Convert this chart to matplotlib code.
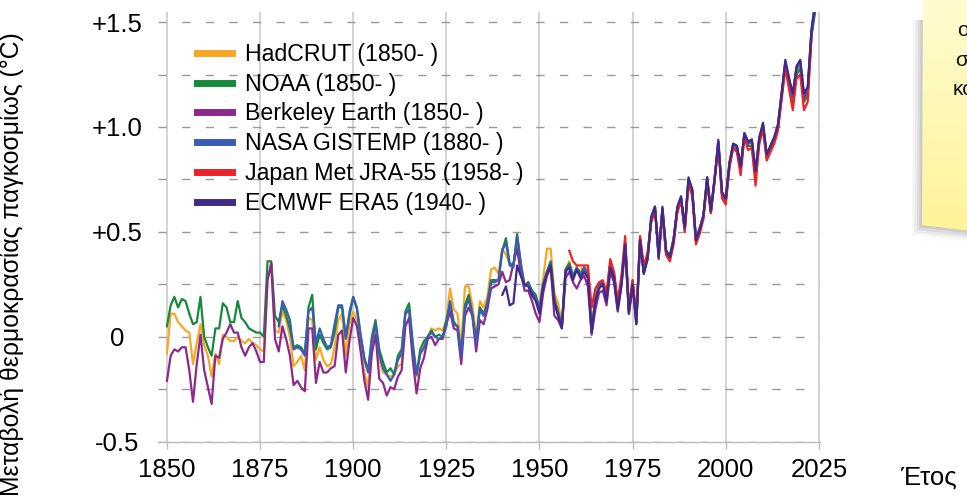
import matplotlib
matplotlib.use('Agg')
import matplotlib.pyplot as plt
import numpy as np
from matplotlib.patches import Polygon

plt.rcParams['font.family'] = ['Liberation Sans', 'DejaVu Sans']

# anomalias anuais (oC)
anos = list(range(1850, 2025))

hadcrut = [
    -0.08, 0.11, 0.11, 0.07, 0.05, 0.03, 0.02, -0.13, -0.03, 0.06,
    -0.04, -0.09, -0.19, -0.08, -0.13, 0.01, 0.00, -0.02, -0.02, 0.00,
    -0.02, -0.03, -0.01, -0.03, -0.04, -0.06, -0.07, 0.27, 0.35, 0.03,
    0.02, 0.12, 0.08, 0.00, -0.14, -0.12, -0.09, -0.16, 0.09, 0.08,
    -0.11, -0.05, -0.11, -0.14, -0.13, -0.05, 0.08, 0.11, -0.09, 0.06,
    0.12, 0.08, -0.06, -0.17, -0.24, -0.03, 0.03, -0.11, -0.17, -0.18,
    -0.19, -0.18, -0.14, -0.13, 0.11, 0.12, -0.09, -0.19, -0.08, -0.06,
    0.00, 0.04, 0.03, 0.04, 0.03, 0.08, 0.23, 0.13, 0.11, -0.05,
    0.24, 0.24, 0.15, 0.00, 0.17, 0.14, 0.19, 0.32, 0.33, 0.30,
    0.42, 0.39, 0.35, 0.34, 0.46, 0.35, 0.25, 0.25, 0.19, 0.18,
    0.15, 0.28, 0.42, 0.42, 0.21, 0.16, 0.06, 0.32, 0.36, 0.30,
    0.31, 0.32, 0.33, 0.32, 0.05, 0.19, 0.25, 0.26, 0.19, 0.35,
    0.30, 0.15, 0.27, 0.44, 0.13, 0.26, 0.08, 0.46, 0.31, 0.38,
    0.55, 0.61, 0.39, 0.60, 0.40, 0.38, 0.46, 0.60, 0.65, 0.51,
    0.73, 0.69, 0.46, 0.51, 0.57, 0.74, 0.59, 0.75, 0.92, 0.68,
    0.66, 0.82, 0.91, 0.90, 0.80, 0.96, 0.92, 0.93, 0.78, 0.94,
    1.00, 0.86, 0.90, 0.94, 0.99, 1.15, 1.30, 1.21, 1.13, 1.27,
    1.29, 1.13, 1.16, 1.44, 1.56]

noaa = [
    0.05, 0.15, 0.19, 0.14, 0.18, 0.17, 0.11, 0.06, 0.07, 0.19,
    0.00, -0.05, -0.09, 0.04, 0.04, 0.16, 0.14, 0.07, 0.07, 0.17,
    0.09, 0.07, 0.04, 0.03, 0.02, 0.02, 0.00, 0.36, 0.36, 0.10,
    0.07, 0.15, 0.10, 0.04, -0.05, -0.04, -0.05, -0.08, 0.14, 0.20,
    -0.06, 0.01, -0.03, -0.06, -0.05, 0.02, 0.14, 0.14, -0.01, 0.12,
    0.19, 0.14, 0.01, -0.10, -0.16, 0.00, 0.08, -0.06, -0.12, -0.17,
    -0.15, -0.18, -0.09, -0.06, 0.12, 0.16, -0.03, -0.18, -0.06, -0.02,
    0.00, 0.03, 0.00, 0.01, 0.00, 0.08, 0.16, 0.07, 0.05, -0.08,
    0.15, 0.20, 0.11, -0.02, 0.14, 0.11, 0.16, 0.27, 0.27, 0.27,
    0.41, 0.47, 0.35, 0.34, 0.49, 0.35, 0.24, 0.26, 0.22, 0.20,
    0.13, 0.25, 0.31, 0.36, 0.18, 0.12, 0.05, 0.32, 0.35, 0.29,
    0.33, 0.30, 0.33, 0.30, 0.03, 0.18, 0.25, 0.26, 0.19, 0.35,
    0.30, 0.15, 0.27, 0.45, 0.13, 0.27, 0.08, 0.47, 0.32, 0.38,
    0.57, 0.62, 0.39, 0.61, 0.41, 0.39, 0.47, 0.61, 0.66, 0.52,
    0.75, 0.70, 0.47, 0.52, 0.58, 0.75, 0.60, 0.74, 0.92, 0.68,
    0.65, 0.81, 0.90, 0.89, 0.80, 0.95, 0.91, 0.91, 0.78, 0.93,
    1.00, 0.85, 0.89, 0.93, 0.99, 1.15, 1.29, 1.20, 1.12, 1.25,
    1.28, 1.12, 1.15, 1.43, 1.55]

berkeley = [
    -0.21, -0.09, -0.06, -0.07, -0.05, -0.05, -0.16, -0.31, -0.13, 0.01,
    -0.16, -0.24, -0.32, -0.09, -0.10, -0.01, 0.02, 0.06, 0.02, 0.02,
    -0.05, -0.09, -0.05, -0.03, -0.07, -0.12, -0.12, 0.27, 0.35, -0.01,
    -0.07, 0.05, -0.01, -0.09, -0.23, -0.21, -0.24, -0.26, 0.04, 0.04,
    -0.22, -0.12, -0.17, -0.17, -0.15, -0.14, 0.01, 0.03, -0.17, -0.02,
    0.09, 0.05, -0.07, -0.21, -0.30, -0.08, 0.01, -0.20, -0.22, -0.28,
    -0.24, -0.25, -0.19, -0.16, 0.05, 0.09, -0.11, -0.27, -0.15, -0.10,
    -0.01, 0.00, -0.04, -0.01, -0.01, 0.06, 0.12, 0.04, 0.03, -0.13,
    0.10, 0.14, 0.10, -0.07, 0.08, 0.06, 0.13, 0.23, 0.24, 0.25,
    0.31, 0.26, 0.27, 0.35, 0.42, 0.30, 0.22, 0.22, 0.17, 0.11,
    0.07, 0.21, 0.29, 0.33, 0.10, 0.08, 0.04, 0.28, 0.31, 0.26,
    0.23, 0.27, 0.29, 0.24, 0.01, 0.13, 0.21, 0.22, 0.15, 0.31,
    0.26, 0.12, 0.24, 0.42, 0.11, 0.24, 0.06, 0.45, 0.30, 0.37,
    0.55, 0.61, 0.37, 0.60, 0.39, 0.37, 0.46, 0.61, 0.66, 0.51,
    0.75, 0.70, 0.46, 0.51, 0.57, 0.76, 0.60, 0.75, 0.94, 0.68,
    0.66, 0.83, 0.92, 0.91, 0.81, 0.97, 0.93, 0.94, 0.78, 0.95,
    1.01, 0.86, 0.91, 0.95, 1.01, 1.16, 1.31, 1.23, 1.15, 1.28,
    1.31, 1.14, 1.17, 1.46, 1.58]

anos_nasa = list(range(1880, 2025))
nasa = [
    0.05, 0.17, 0.13, 0.08, -0.06, -0.05, -0.06, -0.09, 0.12, 0.14,
    -0.03, 0.04, -0.01, -0.05, -0.04, 0.06, 0.15, 0.15, 0.00, 0.10,
    0.19, 0.13, 0.00, -0.11, -0.17, -0.02, 0.06, -0.08, -0.15, -0.18,
    -0.21, -0.18, -0.11, -0.08, 0.11, 0.13, -0.05, -0.18, -0.08, -0.05,
    0.00, 0.02, 0.00, -0.01, 0.00, 0.05, 0.17, 0.06, 0.05, -0.09,
    0.13, 0.18, 0.10, -0.03, 0.13, 0.10, 0.16, 0.26, 0.26, 0.27,
    0.41, 0.45, 0.34, 0.33, 0.48, 0.34, 0.24, 0.26, 0.21, 0.19,
    0.13, 0.25, 0.31, 0.35, 0.18, 0.11, 0.05, 0.32, 0.34, 0.28,
    0.33, 0.29, 0.33, 0.30, 0.02, 0.18, 0.24, 0.26, 0.18, 0.34,
    0.29, 0.14, 0.26, 0.45, 0.12, 0.26, 0.07, 0.47, 0.31, 0.37,
    0.57, 0.62, 0.38, 0.61, 0.40, 0.38, 0.46, 0.61, 0.66, 0.51,
    0.75, 0.70, 0.46, 0.51, 0.57, 0.75, 0.59, 0.74, 0.93, 0.68,
    0.64, 0.82, 0.92, 0.90, 0.80, 0.97, 0.92, 0.93, 0.77, 0.94,
    1.01, 0.86, 0.90, 0.94, 1.00, 1.15, 1.31, 1.22, 1.15, 1.28,
    1.31, 1.15, 1.18, 1.44, 1.57]

anos_jra = list(range(1958, 2024))
jra55 = [
    0.41, 0.36,
    0.34, 0.34, 0.34, 0.34, 0.14, 0.23, 0.26, 0.27, 0.21, 0.37,
    0.31, 0.17, 0.29, 0.48, 0.14, 0.27, 0.09, 0.48, 0.34, 0.40,
    0.55, 0.60, 0.41, 0.59, 0.39, 0.36, 0.44, 0.59, 0.65, 0.50,
    0.73, 0.67, 0.44, 0.49, 0.56, 0.74, 0.59, 0.76, 0.91, 0.66,
    0.63, 0.81, 0.90, 0.88, 0.77, 0.95, 0.89, 0.90, 0.72, 0.92,
    0.99, 0.84, 0.88, 0.92, 0.98, 1.13, 1.28, 1.18, 1.08, 1.23,
    1.25, 1.08, 1.12, 1.42]

anos_era5 = list(range(1940, 2025))
era5 = [
    0.20, 0.24, 0.15, 0.16, 0.34, 0.29, 0.25, 0.24, 0.20, 0.17,
    0.11, 0.24, 0.30, 0.34, 0.16, 0.10, 0.04, 0.31, 0.33, 0.27,
    0.32, 0.28, 0.31, 0.28, 0.02, 0.17, 0.23, 0.25, 0.17, 0.33,
    0.28, 0.13, 0.25, 0.44, 0.11, 0.25, 0.06, 0.46, 0.30, 0.37,
    0.57, 0.62, 0.38, 0.62, 0.41, 0.38, 0.46, 0.62, 0.67, 0.52,
    0.76, 0.70, 0.46, 0.51, 0.58, 0.76, 0.60, 0.75, 0.93, 0.69,
    0.66, 0.83, 0.92, 0.91, 0.81, 0.97, 0.93, 0.94, 0.79, 0.95,
    1.02, 0.87, 0.91, 0.95, 1.01, 1.16, 1.32, 1.23, 1.16, 1.29,
    1.32, 1.16, 1.19, 1.46, 1.60]

series = [
    (anos, hadcrut, 'HadCRUT (1850- )', '#f7a823'),
    (anos, noaa, 'NOAA (1850- )', '#168a3a'),
    (anos, berkeley, 'Berkeley Earth (1850- )', '#8b2a8c'),
    (anos_nasa, nasa, 'NASA GISTEMP (1880- )', '#3a5cb4'),
    (anos_jra, jra55, 'Japan Met JRA-55 (1958- )', '#ee2229'),
    (anos_era5, era5, 'ECMWF ERA5 (1940- )', '#3f2a8a'),
]

W, H = 967, 500
def fx(px):
    return px / W
def fy(py):
    return 1 - py / H

fig = plt.figure(figsize=(W / 100, H / 100), dpi=100)
ax = fig.add_axes([fx(158), fy(441.7), fx(820) - fx(158), fy(12) - fy(441.7)])

for xs, ys, nome, cor in series:
    ax.plot(xs, ys, color=cor, lw=1.6, label=nome, zorder=3)

ax.set_xlim(1847.6, 2025.3)
ax.set_ylim(-0.5, 1.548)

ax.set_xticks(np.arange(1850, 2026, 25))
ax.set_yticks([-0.5, 0, 0.5, 1.0, 1.5])
ax.set_yticklabels(['-0.5', '0', '+0.5', '+1.0', '+1.5'])
ax.set_yticks(np.arange(-0.5, 1.51, 0.25), minor=True)

ax.grid(axis='x', color='#cccccc', lw=1.2, zorder=1)
ax.grid(axis='y', which='both', color='#9a9a9a', lw=1.0, ls=(0, (6, 11)), zorder=1)

for lado in ['top', 'right', 'left']:
    ax.spines[lado].set_visible(False)
ax.spines['bottom'].set_color('#bbbbbb')
ax.spines['bottom'].set_linewidth(1.0)

ax.tick_params(axis='x', length=5, width=1, color='#bbbbbb', pad=6.5, labelsize=18.5)
ax.tick_params(axis='y', which='both', length=0, pad=29.5, labelsize=18.5)
for lab in ax.get_yticklabels():
    lab.set_horizontalalignment('center')

leg = ax.legend(loc='upper left', bbox_to_anchor=(fx(196.7), fy(43)),
                bbox_transform=fig.transFigure, frameon=False, fontsize=16.7,
                handlelength=1.53, handletextpad=0.57, labelspacing=0.29,
                borderpad=0, borderaxespad=0)
for l in leg.get_lines():
    l.set_linewidth(5)

# titulo do eixo y: ajusta o tamanho para ocupar ~467 px como no original
ylab = fig.text(fx(12), fy(264), 'Μεταβολή θερμοκρασίας παγκοσμίως (°C)',
                rotation=90, ha='center', va='center', fontsize=18.5)
fig.canvas.draw()
alt = ylab.get_window_extent().height
ylab.set_fontsize(18.5 * 466 / alt)

fig.text(fx(900), fy(485), 'Έτος', ha='left', va='baseline', fontsize=18.5)

# bilhete amarelo cortado na direita
for i, a in enumerate([0.05, 0.07, 0.09, 0.12]):
    d = 10 - i * 2.5
    sombra = Polygon([(fx(923 - d), fy(20)), (fx(922 - d), fy(225 + d)),
                      (fx(970), fy(231 + d)), (fx(970), fy(20))],
                     closed=True, transform=fig.transFigure,
                     facecolor='#555555', edgecolor='none', alpha=a)
    fig.patches.append(sombra)

nota_xy = [(fx(923), fy(-5)), (fx(922), fy(225)), (fx(970), fy(231)), (fx(970), fy(-5))]
ax_nota = fig.add_axes([0, 0, 1, 1], zorder=5)
ax_nota.set_axis_off()
grad = np.linspace(0, 1, 256).reshape(-1, 1)
cores = np.array([[1.0, 0.985, 0.82], [1.0, 0.955, 0.60]])
img = cores[0] * (1 - grad[..., None]) + cores[1] * grad[..., None]
im = ax_nota.imshow(img, extent=[fx(920), fx(970), fy(232), fy(-5)],
                    transform=fig.transFigure, aspect='auto', zorder=1)
ax_nota.set_xlim(0, 1)
ax_nota.set_ylim(0, 1)
im.set_clip_path(Polygon(nota_xy, closed=True, transform=fig.transFigure))

for texto, x, y in [('ορ', 957, 30), ('στ', 955, 60), ('κο', 953, 90)]:
    fig.text(fx(x), fy(y), texto, ha='left', va='center', fontsize=15,
             color='#111111', zorder=10)

fig.savefig('out.png', dpi=100)
